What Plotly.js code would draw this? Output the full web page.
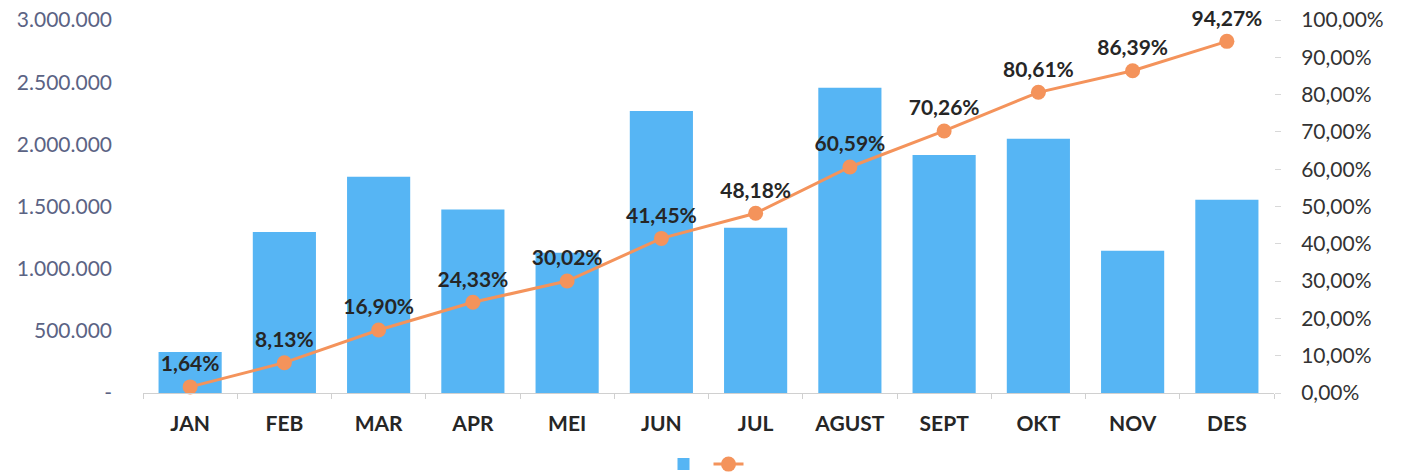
<!DOCTYPE html>
<html>
<head>
<meta charset="utf-8">
<script src="https://cdn.plot.ly/plotly-3.0.1.min.js"></script>
<style>html,body{margin:0;padding:0;background:#fff;}#chart{width:1403px;height:476px;}</style>
</head>
<body>
<div id="chart"></div>
<script>
const months = ["JAN","FEB","MAR","APR","MEI","JUN","JUL","AGUST","SEPT","OKT","NOV","DES"];
const amounts = [330000, 1295000, 1740000, 1475000, 1128000, 2268000, 1330000, 2455000, 1915000, 2045000, 1145000, 1555000];
const cumulativePct = [0.0164, 0.0813, 0.1690, 0.2433, 0.3002, 0.4145, 0.4818, 0.6059, 0.7026, 0.8061, 0.8639, 0.9427];
const leftTickVals = [0, 500000, 1000000, 1500000, 2000000, 2500000, 3000000];
const leftTickText = ["-", "500.000", "1.000.000", "1.500.000", "2.000.000", "2.500.000", "3.000.000"];
const rightTickVals = [0,0.1,0.2,0.3,0.4,0.5,0.6,0.7,0.8,0.9,1.0];

const font = "Lato, 'Open Sans', 'Liberation Sans', sans-serif";

const bars = {
  type: "bar", x: months, y: amounts, name: "",
  marker: {color: "#56b5f4"}, width: 0.67,
  hoverinfo: "skip"
};
const line = {
  type: "scatter", mode: "lines+markers+text", x: months, y: cumulativePct, yaxis: "y2", name: "",
  line: {color: "#f4935b", width: 3},
  marker: {color: "#f4935b", size: 15},
  texttemplate: "%{y:.2%}", textposition: "top center",
  textfont: {family: font, size: 21, color: "#262626", weight: "bold"},
  cliponaxis: false
};

const layout = {
  width: 1403, height: 476,
  margin: {l: 143, r: 129, t: 20, b: 83, autoexpand: false},
  separators: ",.",
  paper_bgcolor: "#fff", plot_bgcolor: "#fff",
  showlegend: true,
  legend: {orientation: "h", x: 0.5, xanchor: "center", yref: "container", y: 0.025, yanchor: "middle",
           font: {size: 12}, itemwidth: 30, tracegroupgap: 0},
  xaxis: {
    automargin: false, range: [-0.5, 11.5], autorange: false,
    tickfont: {family: font, size: 21, color: "#262626", weight: "bold"},
    showline: true, linecolor: "#d0d0d0", linewidth: 1,
    ticks: "outside", tickson: "boundaries", ticklen: 5, tickcolor: "#d0d0d0",
    showgrid: false, ticklabelstandoff: 12
  },
  yaxis: {
    automargin: false,
    range: [0, 3000000], tickvals: leftTickVals, ticktext: leftTickText,
    tickfont: {family: font, size: 21, color: "#5b6384"},
    showgrid: false, zeroline: false, ticks: "", ticklabelstandoff: 30
  },
  yaxis2: {
    automargin: false,
    range: [0, 1], overlaying: "y", side: "right", tickvals: rightTickVals, tickformat: ".2%",
    tickfont: {family: font, size: 21, color: "#333"},
    showgrid: false, zeroline: false, ticks: "outside", ticklen: 6, tickcolor: "#d8d8d8",
    ticklabelstandoff: 16
  }
};
Plotly.newPlot("chart", [bars, line], layout, {staticPlot: true});
</script>
</body>
</html>
